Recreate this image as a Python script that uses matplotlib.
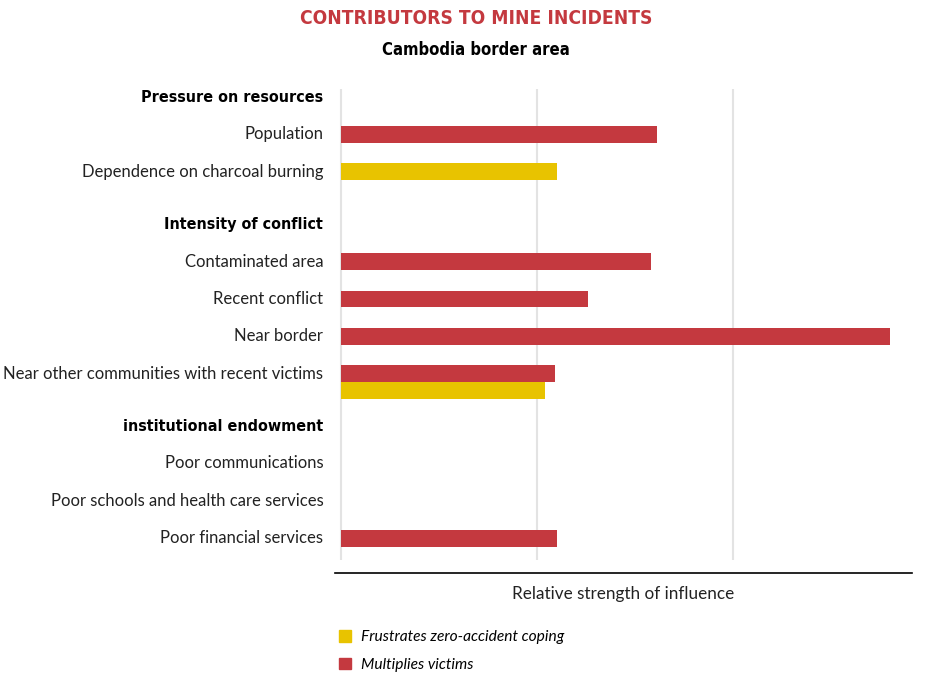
import matplotlib.pyplot as plt
import matplotlib.patches as mpatches
from matplotlib import font_manager

# filas del grafico (los encabezados no llevan barras)
LABELS = ['Pressure on resources', 'Population', 'Dependence on charcoal burning',
          'Intensity of conflict', 'Contaminated area', 'Recent conflict', 'Near border',
          'Near other communities with recent victims',
          'institutional endowment', 'Poor communications',
          'Poor schools and health care services', 'Poor financial services']
HEADERS = ['Pressure on resources', 'Intensity of conflict', 'institutional endowment']

# fuerza relativa (1 = primera linea de cuadricula)
MULTIPLIES = [None, 1.61, None, None, 1.58, 1.26, 2.80, 1.09, None, None, None, 1.10]
FRUSTRATES = [None, None, 1.10, None, None, None, None, 1.04, None, None, None, None]

RED = '#C4393F'
YELLOW = '#E8C300'

# buscar una fuente estrecha en negrita para titulos
names = {f.name for f in font_manager.fontManager.ttflist}
condensed = [f for f in font_manager.fontManager.ttflist
             if f.name == 'DejaVu Sans' and 'ondensed' in f.fname and 'Bold' in f.fname]
if 'Liberation Sans Narrow' in names:
    BOLD_FONT = dict(family='Liberation Sans Narrow', fontweight='bold')
elif condensed:
    BOLD_FONT = dict(fontproperties=font_manager.FontProperties(fname=condensed[0].fname))
else:
    BOLD_FONT = dict(family='Roboto', fontweight='bold', fontstretch='condensed')

# posiciones verticales: hueco extra antes de cada encabezado
pos = []
y = 0.0
for i, lab in enumerate(LABELS):
    if lab in HEADERS and i > 0:
        y += 0.4
    pos.append(y)
    y += 1

fig = plt.figure(figsize=(9.32, 6.73), dpi=100, facecolor='white')
ax = fig.add_axes([335 / 932, 1 - 573 / 673, 577 / 932, 484 / 673])

h = 0.45
for p, m, f in zip(pos, MULTIPLIES, FRUSTRATES):
    if m is not None and f is not None:
        ax.barh(p, m, height=h, color=RED, zorder=3)
        ax.barh(p + h, f, height=h, color=YELLOW, zorder=3)
    elif m is not None:
        ax.barh(p, m, height=h, color=RED, zorder=3)
    elif f is not None:
        ax.barh(p, f, height=h, color=YELLOW, zorder=3)

ax.set_xlim(-6 / 196, 577 / 196 - 6 / 196)
ax.set_ylim(12.73, -0.214)

# cuadricula vertical
ax.vlines([0, 1, 2], -0.214, 12.38, color='#e3e3e3', lw=1.5, zorder=1)

for s in ['top', 'right', 'left']:
    ax.spines[s].set_visible(False)
ax.spines['bottom'].set_linewidth(1.2)
ax.set_xticks([])
ax.set_yticks([])

# etiquetas de filas
for lab, p in zip(LABELS, pos):
    if lab in HEADERS:
        ax.text(-0.09, p, lab, ha='right', va='center', fontsize=11.5, **BOLD_FONT)
    else:
        ax.text(-0.09, p, lab, ha='right', va='center', fontsize=12,
                family='Lato', color='#222222')

ax.set_xlabel('Relative strength of influence', fontsize=12.3, family='Lato',
              color='#222222', labelpad=9)

fig.text(476 / 932, 1 - 18 / 673, 'CONTRIBUTORS TO MINE INCIDENTS', ha='center',
         va='center', fontsize=13.8, color=RED, **BOLD_FONT)
fig.text(476 / 932, 1 - 50 / 673, 'Cambodia border area', ha='center', va='center',
         fontsize=12, **BOLD_FONT)

# leyenda
handles = [mpatches.Patch(color=YELLOW, label='Frustrates zero-accident coping'),
           mpatches.Patch(color=RED, label='Multiplies victims')]
leg = fig.legend(handles=handles, loc='upper left', bbox_to_anchor=(325 / 932, 1 - 616 / 673),
                 frameon=False, prop={'family': 'Lato', 'style': 'italic', 'size': 11.2},
                 handlelength=0.8, handleheight=0.8, handletextpad=0.6, labelspacing=0.85)

plt.savefig('out.png', dpi=100)
